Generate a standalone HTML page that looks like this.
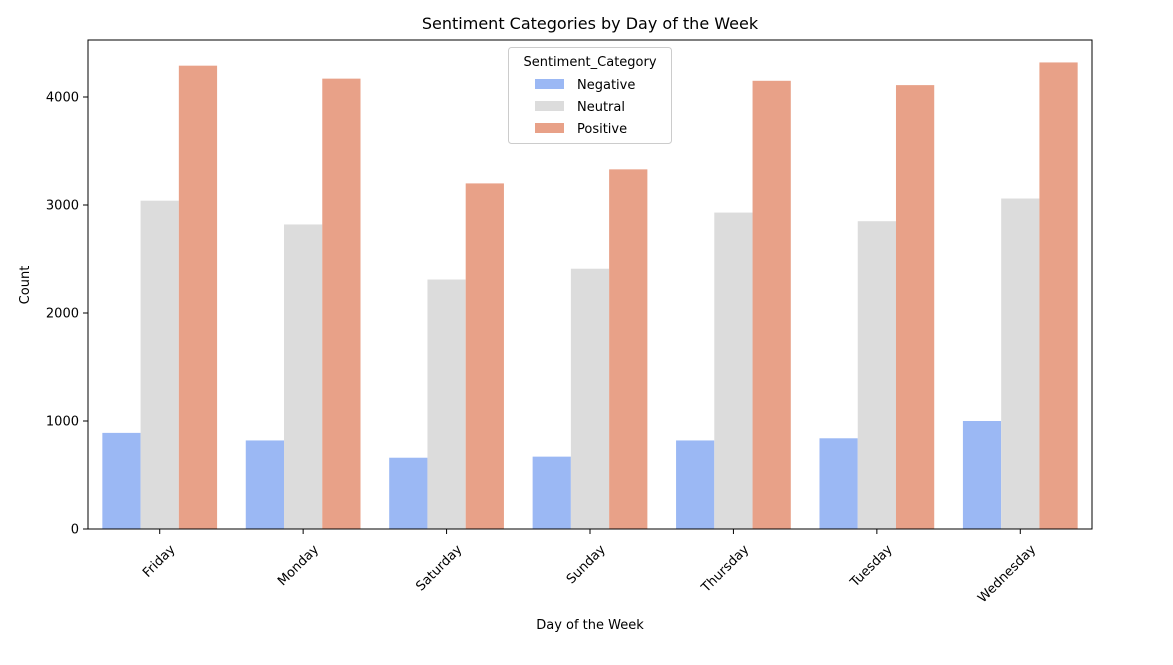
<!DOCTYPE html>
<html><head><meta charset="utf-8"><style>
body{margin:0;background:#fff;}
svg text{font-family:"DejaVu Sans","Liberation Sans",sans-serif;fill:#000;}
</style></head><body>
<svg id="chart" width="1173" height="660" xmlns="http://www.w3.org/2000/svg">
<text x="590" y="29" font-size="16" text-anchor="middle">Sentiment Categories by Day of the Week</text>
<g id="bars"></g>
<g id="axes"></g>
<rect x="88" y="40" width="1004" height="489" fill="none" stroke="#000" stroke-width="1"/>
<text x="590" y="629" font-size="13" text-anchor="middle">Day of the Week</text>
<text x="29" y="285" font-size="13" text-anchor="middle" transform="rotate(-90 29 285)">Count</text>
<g>
<rect x="508.5" y="47.5" width="163" height="96" rx="3" fill="#fff" stroke="#ccc"/>
<text x="590" y="66" font-size="13" text-anchor="middle">Sentiment_Category</text>
<rect x="535" y="79" width="29" height="10" fill="#9bb8f4"/>
<text x="577" y="89" font-size="13">Negative</text>
<rect x="535" y="101" width="29" height="10" fill="#dcdcdc"/>
<text x="577" y="111" font-size="13">Neutral</text>
<rect x="535" y="123" width="29" height="10" fill="#e8a188"/>
<text x="577" y="133" font-size="13">Positive</text>
</g>
</svg>
<script>
const categories=["Friday","Monday","Saturday","Sunday","Thursday","Tuesday","Wednesday"];
const negative=[890,820,660,670,820,840,1000];
const neutral=[3040,2820,2310,2410,2930,2850,3060];
const positive=[4290,4170,3200,3330,4150,4110,4320];
const yTicks=[0,1000,2000,3000,4000];
const seriesNames=["negative","neutral","positive"];
const colors=["#9bb8f4","#dcdcdc","#e8a188"];
const NS="http://www.w3.org/2000/svg";
const L=88,R=1092,B=529,pxPer=108/1000;
const step=(R-L)/categories.length, bw=step*0.8/3;
function y(v){return B-v*pxPer;}
function xc(i){return L+step*(i+0.5);}
const bars=document.getElementById('bars'), axes=document.getElementById('axes');
[negative,neutral,positive].forEach((s,si)=>{
  s.forEach((v,i)=>{
    const r=document.createElementNS(NS,'rect');
    r.setAttribute('x',xc(i)-1.5*bw+si*bw);
    r.setAttribute('y',y(v));
    r.setAttribute('width',bw);
    r.setAttribute('height',B-y(v));
    r.setAttribute('fill',colors[si]);
    
    
    bars.appendChild(r);
  });
});
yTicks.forEach(t=>{
  const ln=document.createElementNS(NS,'line');
  ln.setAttribute('x1',L-5);ln.setAttribute('x2',L);ln.setAttribute('y1',y(t));ln.setAttribute('y2',y(t));ln.setAttribute('stroke','#000');
  
  
  axes.appendChild(ln);
  const tx=document.createElementNS(NS,'text');
  tx.setAttribute('x',L-9);tx.setAttribute('y',y(t)+4.5);tx.setAttribute('font-size','13');tx.setAttribute('text-anchor','end');
  tx.textContent=t;
  
  
  axes.appendChild(tx);
});
categories.forEach((c,i)=>{
  const x=xc(i);
  const ln=document.createElementNS(NS,'line');
  ln.setAttribute('x1',x);ln.setAttribute('x2',x);ln.setAttribute('y1',B);ln.setAttribute('y2',B+5);ln.setAttribute('stroke','#000');
  
  
  axes.appendChild(ln);
  const ax=x+16, ay=B+21;
  const tx=document.createElementNS(NS,'text');
  tx.setAttribute('x',ax);tx.setAttribute('y',ay);tx.setAttribute('font-size','13');tx.setAttribute('text-anchor','end');
  tx.setAttribute('transform','rotate(-45 '+ax+' '+ay+')');
  tx.textContent=c;
  
  
  axes.appendChild(tx);
});
</script>
</body></html>
